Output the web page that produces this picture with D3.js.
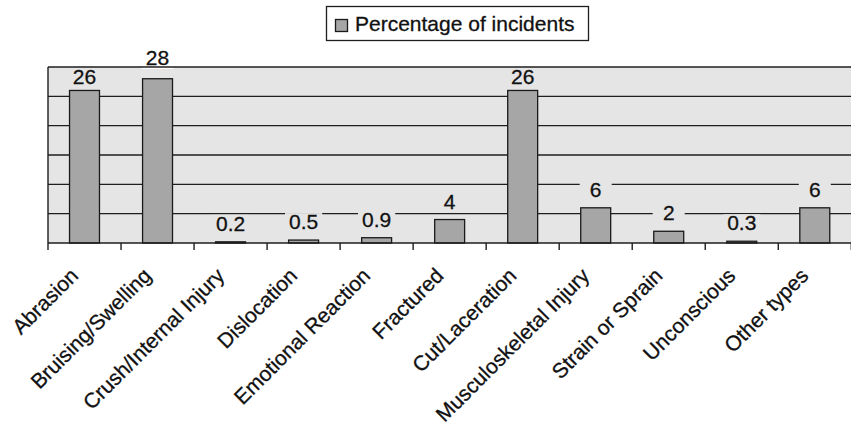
<!DOCTYPE html>
<html>
<head>
<meta charset="utf-8">
<script src="https://cdn.jsdelivr.net/npm/d3@7"></script>
<style>
  body { margin: 0; background: #fff; }
  text { font-family: "Liberation Sans", Arial, sans-serif; fill: #111; stroke: #111; stroke-width: 0.3px; }
</style>
</head>
<body>
<div id="chart"></div>
<script>
// data
let categories = ["Abrasion", "Bruising/Swelling", "Crush/Internal Injury", "Dislocation",
    "Emotional Reaction", "Fractured", "Cut/Laceration", "Musculoskeletal Injury",
    "Strain or Sprain", "Unconscious", "Other types"];
let percentages = [26, 28, 0.2, 0.5, 0.9, 4, 26, 6, 2, 0.3, 6];
let valueLabels = ["26", "28", "0.2", "0.5", "0.9", "4", "26", "6", "2", "0.3", "6"];
let seriesName = "Percentage of incidents";

let svgWidth = 851;
let svgHeight = 425;

let plot = { left: 48, top: 67, right: 851, bottom: 243 };
let fontSize = "21px";

let svg = d3.select("#chart")
    .append("svg")
    .attr("width", svgWidth)
    .attr("height", svgHeight);

let xSlot = d3.scaleBand()
    .domain(categories)
    .range([plot.left, plot.right + 0.3])
    .padding(0);

let barWidth = xSlot.bandwidth() * 0.41;

let yScale = d3.scaleLinear()
    .domain([0, 30])
    .range([plot.bottom, plot.top]);

// plot background
svg.append("rect")
    .attr("x", plot.left)
    .attr("y", plot.top)
    .attr("width", plot.right - plot.left + 2)
    .attr("height", plot.bottom - plot.top)
    .attr("fill", "#e5e5e5");

// gridlines
svg.append("g")
    .selectAll("line")
    .data(yScale.ticks(6).filter(t => t > 0 && t < 30))
    .enter()
    .append("line")
    .attr("x1", plot.left)
    .attr("x2", plot.right + 2)
    .attr("y1", d => yScale(d))
    .attr("y2", d => yScale(d))
    .attr("stroke", "#1e1e1e")
    .attr("stroke-width", 1.4);

// bars
svg.append("g")
    .selectAll("rect")
    .data(percentages)
    .enter()
    .append("rect")
    .attr("x", (d, i) => xSlot(categories[i]) + (xSlot.bandwidth() - barWidth) / 2)
    .attr("y", d => yScale(d))
    .attr("width", barWidth)
    .attr("height", d => plot.bottom - yScale(d))
    .attr("fill", "#a6a6a6")
    .attr("stroke", "#1a1a1a")
    .attr("stroke-width", 1.3);

// value labels with background boxes
let labelGroup = svg.append("g");
percentages.forEach(function (v, i) {
    let cx = xSlot(categories[i]) + xSlot.bandwidth() / 2;
    let barTop = yScale(v);
    let baseline = barTop - 11;
    // keep the label inside the frame if it fits, else put it above the frame
    if (baseline - 16 < plot.top) {
        baseline = plot.top + 17;
        if (baseline > barTop - 5) baseline = plot.top - 2;
    }
    let g = labelGroup.append("g");
    let box = g.append("rect");
    let t = g.append("text")
        .attr("x", cx)
        .attr("y", baseline)
        .attr("text-anchor", "middle")
        .attr("font-size", fontSize)
        .text(valueLabels[i]);
    let w = Math.max(32, t.node().getComputedTextLength() + 8);
    box.attr("x", cx - w / 2)
        .attr("y", baseline - 16)
        .attr("width", w)
        .attr("height", 20)
        .attr("fill", baseline < plot.top ? "#fff" : "#e5e5e5");
});

// frame: top, left and bottom axis line
svg.append("line")
    .attr("x1", plot.left).attr("x2", plot.right + 2)
    .attr("y1", plot.top).attr("y2", plot.top)
    .attr("stroke", "#1e1e1e").attr("stroke-width", 1.4);
svg.append("line")
    .attr("x1", plot.left).attr("x2", plot.left)
    .attr("y1", plot.top).attr("y2", plot.bottom)
    .attr("stroke", "#1e1e1e").attr("stroke-width", 1.4);
svg.append("line")
    .attr("x1", plot.left).attr("x2", plot.right + 2)
    .attr("y1", plot.bottom).attr("y2", plot.bottom)
    .attr("stroke", "#1e1e1e").attr("stroke-width", 1.6);

// ticks at the category boundaries
let boundaries = categories.map(c => xSlot(c)).concat([xSlot.range()[1]]);
svg.append("g")
    .selectAll("line")
    .data(boundaries)
    .enter()
    .append("line")
    .attr("x1", d => d)
    .attr("x2", d => d)
    .attr("y1", plot.bottom)
    .attr("y2", plot.bottom + 7)
    .attr("stroke", "#1e1e1e")
    .attr("stroke-width", 1.4);

// category labels, rotated
svg.append("g")
    .selectAll("text")
    .data(categories)
    .enter()
    .append("text")
    .attr("transform", d => `translate(${xSlot(d) + xSlot.bandwidth() / 2 - 5}, ${plot.bottom + 34}) rotate(-45)`)
    .attr("text-anchor", "end")
    .attr("font-size", fontSize)
    .text(d => d);

// legend
let legend = svg.append("g");
legend.append("rect")
    .attr("x", 326.5).attr("y", 6.5)
    .attr("width", 262).attr("height", 34)
    .attr("fill", "#fff")
    .attr("stroke", "#1e1e1e").attr("stroke-width", 1.3);
legend.append("rect")
    .attr("x", 335.5).attr("y", 19.5)
    .attr("width", 12).attr("height", 12)
    .attr("fill", "#a6a6a6")
    .attr("stroke", "#1a1a1a").attr("stroke-width", 1.3);
legend.append("text")
    .attr("x", 355)
    .attr("y", 31)
    .attr("font-size", fontSize)
    .text(seriesName);
</script>
</body>
</html>
